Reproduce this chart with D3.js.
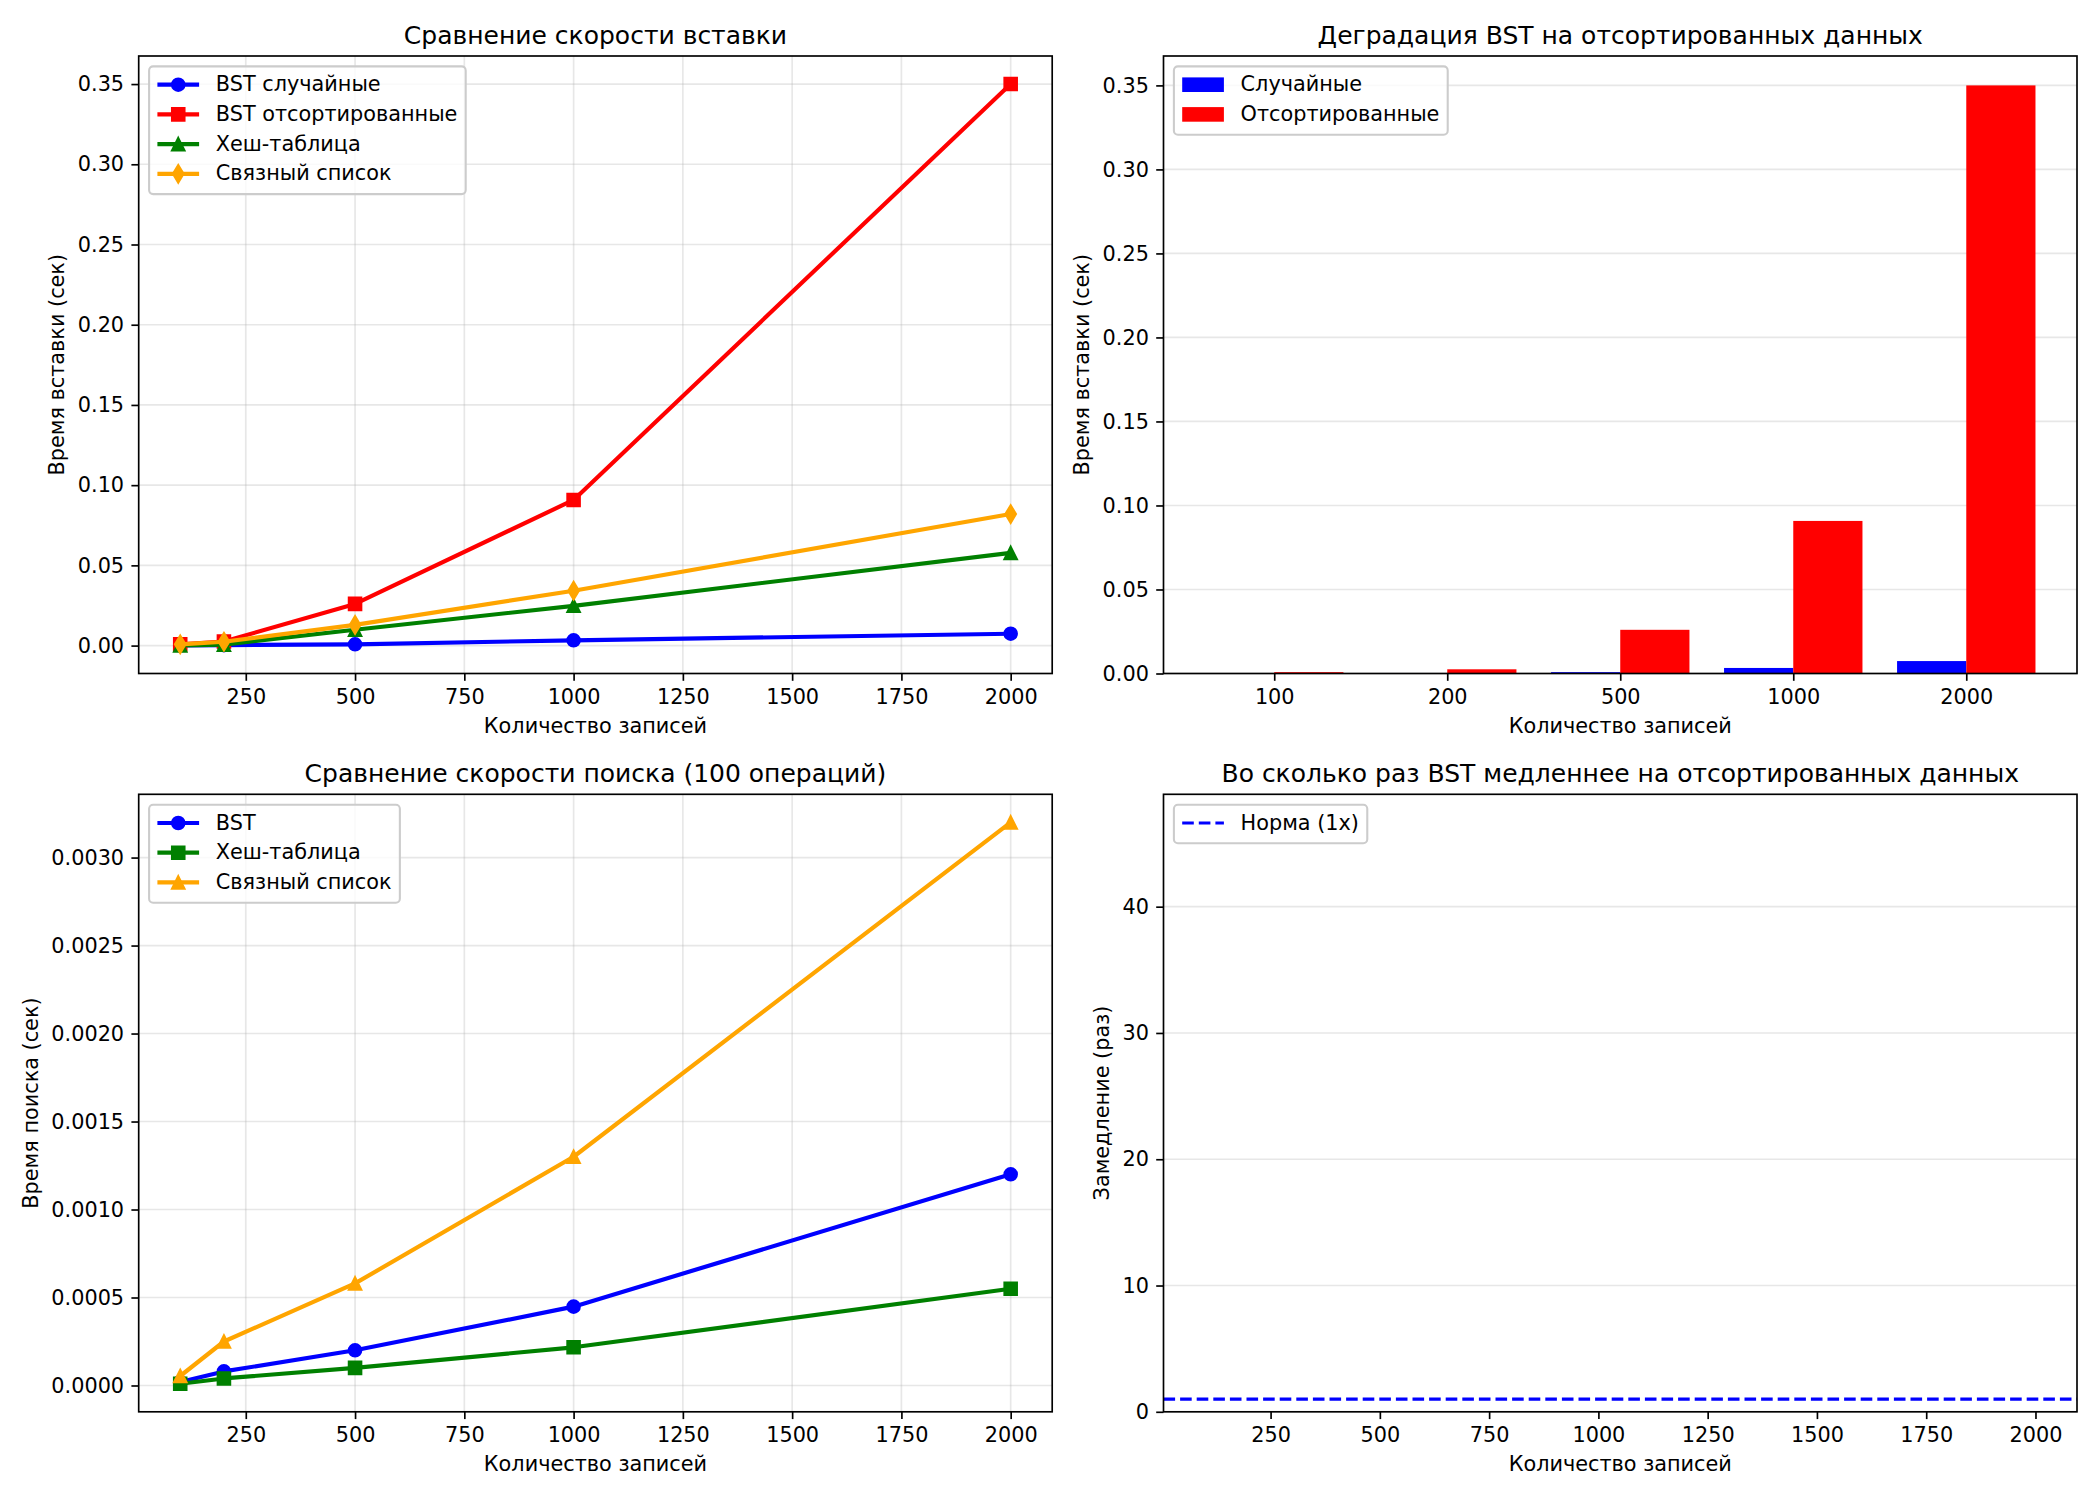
<!DOCTYPE html>
<html>
<head>
<meta charset="utf-8">
<script src="https://cdn.jsdelivr.net/npm/d3@7"></script>
<style>
  body { margin: 0; background: #fff; }
  svg { display: block; font-family: "DejaVu Sans", sans-serif; }
</style>
</head>
<body>
<svg id="fig" width="2100" height="1500"></svg>
<script>
// ---- data ----
const sizes = [100, 200, 500, 1000, 2000];

const insertBstRandom = [0.0001, 0.0003, 0.0008, 0.0033, 0.0074];
const insertBstSorted = [0.0008, 0.0025, 0.0260, 0.0908, 0.3500];
const insertHash      = [0.0001, 0.0006, 0.0099, 0.0248, 0.0578];
const insertList      = [0.0008, 0.0024, 0.0129, 0.0342, 0.0820];

const searchBst  = [0.00002, 0.00008, 0.00020, 0.000448, 0.00120];
const searchHash = [0.00001, 0.00004, 0.00010, 0.000217, 0.00055];
const searchList = [0.000054, 0.00025, 0.00058, 0.00130, 0.00320];

const sizeTicks = [250, 500, 750, 1000, 1250, 1500, 1750, 2000];
const insertTicks = [0, 0.05, 0.10, 0.15, 0.20, 0.25, 0.30, 0.35];
const searchTicks = [0, 0.0005, 0.0010, 0.0015, 0.0020, 0.0025, 0.0030];
const slowTicks = [0, 10, 20, 30, 40];
const slowMax = 48.9;
const normLevel = 1;

// ---- layout ----
const svg = d3.select("#fig");
const W = 913.5, H = 617.5;
const FS = 20.8, TFS = 25, TL = 7.3;
const GRID = "#b0b0b0";

const panel = (x, y) => svg.append("g").attr("transform", `translate(${x},${y})`);

function padded(vals) {
  const [a, b] = d3.extent(vals);
  const m = (b - a) * 0.05;
  return [a - m, b + m];
}

function markerPath(type) {
  const s = 12.5;
  if (type === "o") return d3.symbol(d3.symbolCircle, Math.PI * (s / 2) ** 2)();
  if (type === "s") return `M${-s/2},${-s/2}H${s/2}V${s/2}H${-s/2}Z`;
  if (type === "^") return `M0,${-s/2}L${s/2},${s/2}L${-s/2},${s/2}Z`;
  if (type === "d") {
    const h = 0.7071 * s, w = 0.6 * 0.7071 * s;
    return `M0,${-h}L${w},0L0,${h}L${-w},0Z`;
  }
}

function grid(g, x, y, xt, yt) {
  if (xt) g.append("g").selectAll("line").data(xt).join("line")
    .attr("x1", d => x(d)).attr("x2", d => x(d)).attr("y1", 0).attr("y2", H)
    .attr("stroke", GRID).attr("stroke-opacity", 0.3).attr("stroke-width", 1.67);
  g.append("g").selectAll("line").data(yt).join("line")
    .attr("x1", 0).attr("x2", W).attr("y1", d => y(d)).attr("y2", d => y(d))
    .attr("stroke", GRID).attr("stroke-opacity", 0.3).attr("stroke-width", 1.67);
}

function axes(g, x, y, o) {
  const xa = g.append("g").attr("transform", `translate(0,${H})`)
    .call(d3.axisBottom(x).tickValues(o.xt).tickFormat(o.xf).tickSize(TL).tickPadding(TL));
  const ya = g.append("g")
    .call(d3.axisLeft(y).tickValues(o.yt).tickFormat(o.yf).tickSize(TL).tickPadding(TL));
  [xa, ya].forEach(a => {
    a.select(".domain").remove();
    a.attr("font-size", FS).attr("font-family", "DejaVu Sans");
    a.selectAll("line").attr("stroke", "#000").attr("stroke-width", 1.67);
    a.selectAll("text").attr("fill", "#000");
  });
  xa.selectAll("text").attr("dy", "0.76em");
  g.append("rect").attr("width", W).attr("height", H)
    .attr("fill", "none").attr("stroke", "#000").attr("stroke-width", 1.67);

  g.append("text").attr("x", W / 2).attr("y", -12.5).attr("text-anchor", "middle")
    .attr("font-size", TFS).text(o.title);
  g.append("text").attr("x", W / 2).attr("y", H + 59.7).attr("text-anchor", "middle")
    .attr("font-size", FS).text(o.xl);
  const bx = ya.node().getBBox().x;
  const lx = bx - 8.3 - 5;
  g.append("text").attr("transform", `translate(${lx},${H / 2}) rotate(-90)`)
    .attr("text-anchor", "middle").attr("font-size", FS).text(o.yl);
}

function legend(g, items) {
  const lg = g.append("g").attr("transform", "translate(10.4,10.4)");
  const frame = lg.append("rect");
  let maxW = 0;
  items.forEach((d, i) => {
    const r = lg.append("g").attr("transform", `translate(0,${18.3 + i * 29.7})`);
    if (d.patch) {
      r.append("rect").attr("x", 8.3).attr("y", -7.3).attr("width", 41.7).attr("height", 14.6)
        .attr("fill", d.color);
    } else {
      r.append("line").attr("x1", 8.3).attr("x2", 50).attr("stroke", d.color)
        .attr("stroke-width", d.lw).attr("stroke-dasharray", d.dash || null);
      if (d.marker) r.append("path").attr("transform", "translate(29.15,0)")
        .attr("d", markerPath(d.marker)).attr("fill", d.color)
        .attr("stroke", d.color).attr("stroke-width", 2.08);
    }
    const t = r.append("text").attr("x", 66.7).attr("dy", "0.32em")
      .attr("font-size", FS).text(d.label);
    maxW = Math.max(maxW, t.node().getComputedTextLength());
  });
  frame.attr("width", 66.7 + maxW + 8.3)
    .attr("height", 18.3 + (items.length - 1) * 29.7 + 20.3)
    .attr("rx", 4).attr("fill", "#fff").attr("fill-opacity", 0.8)
    .attr("stroke", "#cccccc").attr("stroke-width", 2.08);
}

function series(g, x, y, vals, color, marker) {
  const pts = sizes.map((s, i) => [s, vals[i]]);
  g.append("path").datum(pts)
    .attr("d", d3.line().x(d => x(d[0])).y(d => y(d[1])))
    .attr("fill", "none").attr("stroke", color).attr("stroke-width", 4.17)
    .attr("stroke-linejoin", "round");
  g.append("g").selectAll("path").data(pts).join("path")
    .attr("transform", d => `translate(${x(d[0])},${y(d[1])})`)
    .attr("d", markerPath(marker)).attr("fill", color)
    .attr("stroke", color).attr("stroke-width", 2.08);
}

const xlab = "Количество записей";

// ---- 1: insertion speed ----
{
  const g = panel(138.7, 56);
  const x = d3.scaleLinear().domain(padded(sizes)).range([0, W]);
  const y = d3.scaleLinear()
    .domain(padded([...insertBstRandom, ...insertBstSorted, ...insertHash, ...insertList]))
    .range([H, 0]);
  grid(g, x, y, sizeTicks, insertTicks);
  const s = [
    { v: insertBstRandom, c: "blue", m: "o", label: "BST случайные" },
    { v: insertBstSorted, c: "red", m: "s", label: "BST отсортированные" },
    { v: insertHash, c: "green", m: "^", label: "Хеш-таблица" },
    { v: insertList, c: "orange", m: "d", label: "Связный список" }
  ];
  s.forEach(d => series(g, x, y, d.v, d.c, d.m));
  axes(g, x, y, { xt: sizeTicks, xf: d3.format("d"), yt: insertTicks, yf: d3.format(".2f"),
    title: "Сравнение скорости вставки", xl: xlab, yl: "Время вставки (сек)" });
  legend(g, s.map(d => ({ label: d.label, color: d.c, marker: d.m, lw: 4.17 })));
}

// ---- 2: BST degradation bars ----
{
  const g = panel(1163.5, 56);
  const idx = sizes.map((_, i) => i);
  const x = d3.scaleLinear().domain([-0.4 - 0.24, sizes.length - 0.6 + 0.24]).range([0, W]);
  const y = d3.scaleLinear().domain([0, d3.max(insertBstSorted) * 1.05]).range([H, 0]);
  grid(g, x, y, null, insertTicks);
  g.append("g").selectAll("rect").data(insertBstRandom).join("rect")
    .attr("x", (d, i) => x(i - 0.4)).attr("width", x(0.4) - x(0))
    .attr("y", d => y(d)).attr("height", d => H - y(d)).attr("fill", "blue");
  g.append("g").selectAll("rect").data(insertBstSorted).join("rect")
    .attr("x", (d, i) => x(i)).attr("width", x(0.4) - x(0))
    .attr("y", d => y(d)).attr("height", d => H - y(d)).attr("fill", "red");
  axes(g, x, y, { xt: idx, xf: i => String(sizes[i]), yt: insertTicks, yf: d3.format(".2f"),
    title: "Деградация BST на отсортированных данных", xl: xlab, yl: "Время вставки (сек)" });
  legend(g, [
    { label: "Случайные", color: "blue", patch: true },
    { label: "Отсортированные", color: "red", patch: true }
  ]);
}

// ---- 3: search speed ----
{
  const g = panel(138.7, 794.3);
  const x = d3.scaleLinear().domain(padded(sizes)).range([0, W]);
  const y = d3.scaleLinear()
    .domain(padded([...searchBst, ...searchHash, ...searchList]))
    .range([H, 0]);
  grid(g, x, y, sizeTicks, searchTicks);
  const s = [
    { v: searchBst, c: "blue", m: "o", label: "BST" },
    { v: searchHash, c: "green", m: "s", label: "Хеш-таблица" },
    { v: searchList, c: "orange", m: "^", label: "Связный список" }
  ];
  s.forEach(d => series(g, x, y, d.v, d.c, d.m));
  axes(g, x, y, { xt: sizeTicks, xf: d3.format("d"), yt: searchTicks, yf: d3.format(".4f"),
    title: "Сравнение скорости поиска (100 операций)", xl: xlab, yl: "Время поиска (сек)" });
  legend(g, s.map(d => ({ label: d.label, color: d.c, marker: d.m, lw: 4.17 })));
}

// ---- 4: slowdown ----
{
  const g = panel(1163.5, 794.3);
  const x = d3.scaleLinear().domain(padded(sizes)).range([0, W]);
  const y = d3.scaleLinear().domain([0, slowMax]).range([H, 0]);
  grid(g, x, y, null, slowTicks);
  g.append("line").attr("x1", 0).attr("x2", W).attr("y1", y(normLevel)).attr("y2", y(normLevel))
    .attr("stroke", "blue").attr("stroke-width", 3.1).attr("stroke-dasharray", "11.6,5");
  axes(g, x, y, { xt: sizeTicks, xf: d3.format("d"), yt: slowTicks, yf: d3.format("d"),
    title: "Во сколько раз BST медленнее на отсортированных данных", xl: xlab, yl: "Замедление (раз)" });
  legend(g, [{ label: "Норма (1x)", color: "blue", lw: 3.1, dash: "11.6,5" }]);
}
</script>
</body>
</html>
